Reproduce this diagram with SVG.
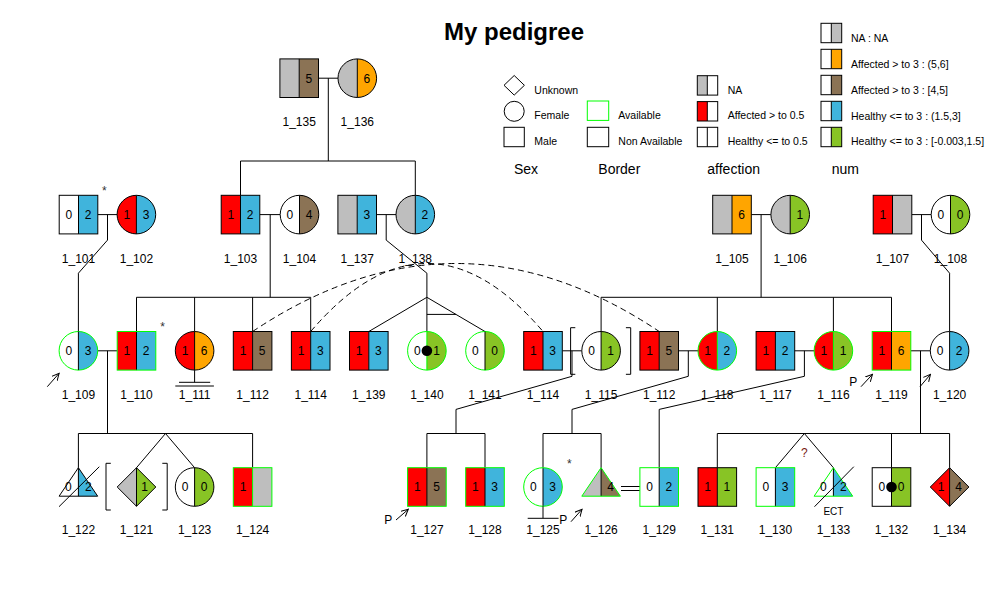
<svg xmlns="http://www.w3.org/2000/svg" width="1000" height="600" viewBox="0 0 1000 600">
<style>
.ln{stroke:#000;stroke-width:1;fill:none}
.ds{stroke:#000;stroke-width:1;fill:none;stroke-dasharray:6,4}
.ol{fill:none;stroke:#000;stroke-width:1}
.av{fill:none;stroke:#00ff00;stroke-width:1}
.t{font-family:"Liberation Sans",Arial,sans-serif;font-size:12px;text-anchor:middle;fill:#000}
.lg{font-family:"Liberation Sans",Arial,sans-serif;font-size:10.5px;text-anchor:start;fill:#000}
.hd{font-family:"Liberation Sans",Arial,sans-serif;font-size:14px;text-anchor:start;fill:#000}
.w{fill:#fff}.r{fill:#ff0000}.b{fill:#40b4dc}.br{fill:#8b7355}.o{fill:#ffa500}.g{fill:#88c425}.gy{fill:#bebebe}
</style>
<defs>
<marker id="arr" markerWidth="8" markerHeight="8" refX="7" refY="4" orient="auto" markerUnits="userSpaceOnUse">
<path d="M0,0.5 L7,4 L0,7.5" fill="none" stroke="#000" stroke-width="1"/>
</marker>
</defs>
<rect width="1000" height="600" fill="#fff"/>
<text x="514" y="39.5" style="font-family:'Liberation Sans',Arial,sans-serif;font-size:24px;font-weight:bold;text-anchor:middle">My pedigree</text>

<g id="legend">
<polygon points="514.2,75.5 524.4,85.3 514.2,95.1 504,85.3" class="ol"/>
<text x="534.3" y="94.2" class="lg">Unknown</text>
<circle cx="514.2" cy="111.3" r="10" class="ol"/>
<text x="534.3" y="119.2" class="lg">Female</text>
<rect x="504" y="127.3" width="20.3" height="19.4" class="ol"/>
<text x="534.3" y="145.2" class="lg">Male</text>
<text x="514" y="173.8" class="hd">Sex</text>
<rect x="587.3" y="101" width="21.4" height="19.4" class="av"/>
<text x="618.3" y="119.2" class="lg">Available</text>
<rect x="587.3" y="127.3" width="21.4" height="19.4" class="ol"/>
<text x="618.3" y="145.2" class="lg">Non Available</text>
<text x="598.3" y="173.8" class="hd">Border</text>
<rect x="697.3" y="75.7" width="10" height="19.4" class="gy"/>
<rect x="697.3" y="75.7" width="20.4" height="19.4" class="ol"/><line x1="707.3" y1="75.7" x2="707.3" y2="95.1" class="ln"/>
<text x="727.7" y="94.2" class="lg">NA</text>
<rect x="697.3" y="101.6" width="10" height="19.4" class="r"/>
<rect x="697.3" y="101.6" width="20.4" height="19.4" class="ol"/><line x1="707.3" y1="101.6" x2="707.3" y2="121" class="ln"/>
<text x="727.7" y="119.2" class="lg">Affected &gt; to 0.5</text>
<rect x="697.3" y="127.3" width="20.4" height="19.4" class="ol"/><line x1="707.3" y1="127.3" x2="707.3" y2="146.7" class="ln"/>
<text x="727.7" y="145.2" class="lg">Healthy &lt;= to 0.5</text>
<text x="707.3" y="173.8" class="hd">affection</text>
<rect x="831.3" y="23.3" width="10.4" height="19.4" class="gy"/>
<rect x="821" y="23.3" width="20.7" height="19.4" class="ol"/><line x1="831.3" y1="23.3" x2="831.3" y2="42.7" class="ln"/>
<text x="851" y="41.8" class="lg">NA : NA</text>
<rect x="831.3" y="49.3" width="10.4" height="19.4" class="o"/>
<rect x="821" y="49.3" width="20.7" height="19.4" class="ol"/><line x1="831.3" y1="49.3" x2="831.3" y2="68.7" class="ln"/>
<text x="851" y="67.8" class="lg">Affected &gt; to 3 : (5,6]</text>
<rect x="831.3" y="75.3" width="10.4" height="19.4" class="br"/>
<rect x="821" y="75.3" width="20.7" height="19.4" class="ol"/><line x1="831.3" y1="75.3" x2="831.3" y2="94.7" class="ln"/>
<text x="851" y="93.8" class="lg">Affected &gt; to 3 : [4,5]</text>
<rect x="831.3" y="101.3" width="10.4" height="19.4" class="b"/>
<rect x="821" y="101.3" width="20.7" height="19.4" class="ol"/><line x1="831.3" y1="101.3" x2="831.3" y2="120.7" class="ln"/>
<text x="851" y="119.5" class="lg">Healthy &lt;= to 3 : (1.5,3]</text>
<rect x="831.3" y="127.3" width="10.4" height="19.4" class="g"/>
<rect x="821" y="127.3" width="20.7" height="19.4" class="ol"/><line x1="831.3" y1="127.3" x2="831.3" y2="146.7" class="ln"/>
<text x="851" y="145.2" class="lg">Healthy &lt;= to 3 : [-0.003,1.5]</text>
<text x="831.7" y="173.8" class="hd">num</text>
</g>

<g id="connectors">
<line x1="318.5" y1="78.2" x2="338" y2="78.2" class="ln"/>
<line x1="328.3" y1="78.2" x2="328.3" y2="161" class="ln"/>
<line x1="240.5" y1="161" x2="415.3" y2="161" class="ln"/>
<line x1="240.5" y1="161" x2="240.5" y2="195.3" class="ln"/>
<line x1="415.3" y1="161" x2="415.3" y2="195.3" class="ln"/>
<line x1="97.8" y1="214.6" x2="117.1" y2="214.6" class="ln"/>
<polyline points="107.5,214.6 107.5,240.1 78.4,273.2 78.4,331.5" class="ln"/>
<line x1="259.8" y1="214.6" x2="280.2" y2="214.6" class="ln"/>
<line x1="270.2" y1="214.6" x2="270.2" y2="297.3" class="ln"/>
<line x1="376.5" y1="214.6" x2="396" y2="214.6" class="ln"/>
<polyline points="386.2,214.6 386.2,240.1 426.9,273.2 426.9,297.3" class="ln"/>
<line x1="751.3" y1="214.6" x2="770.9" y2="214.6" class="ln"/>
<line x1="761.1" y1="214.6" x2="761.1" y2="297.3" class="ln"/>
<line x1="911.8" y1="214.6" x2="931.2" y2="214.6" class="ln"/>
<polyline points="921.5,214.6 921.5,240.1 949.6,273.2 949.6,331.5" class="ln"/>
<line x1="136.5" y1="297.3" x2="310.7" y2="297.3" class="ln"/>
<line x1="136.5" y1="297.3" x2="136.5" y2="331.5" class="ln"/>
<line x1="194.6" y1="297.3" x2="194.6" y2="331.5" class="ln"/>
<line x1="252.6" y1="297.3" x2="252.6" y2="331.5" class="ln"/>
<line x1="310.7" y1="297.3" x2="310.7" y2="331.5" class="ln"/>
<line x1="426.9" y1="297.3" x2="368.8" y2="331.5" class="ln"/>
<line x1="426.9" y1="297.3" x2="426.9" y2="331.5" class="ln"/>
<line x1="426.9" y1="297.3" x2="485" y2="331.5" class="ln"/>
<line x1="426.9" y1="314.4" x2="456" y2="314.4" class="ln"/>
<line x1="601.1" y1="297.3" x2="891.5" y2="297.3" class="ln"/>
<line x1="601.1" y1="297.3" x2="601.1" y2="331.5" class="ln"/>
<line x1="717.3" y1="297.3" x2="717.3" y2="331.5" class="ln"/>
<line x1="833.4" y1="297.3" x2="833.4" y2="331.5" class="ln"/>
<line x1="891.5" y1="297.3" x2="891.5" y2="331.5" class="ln"/>
<path d="M252.6,331.5 Q455.9,195.5 659.2,331.5" class="ds"/>
<path d="M310.7,331.5 Q426.9,195.5 543,331.5" class="ds"/>
<line x1="97.7" y1="350.8" x2="117.2" y2="350.8" class="ln"/>
<line x1="107.5" y1="350.8" x2="107.5" y2="433.5" class="ln"/>
<line x1="562.3" y1="350.8" x2="581.8" y2="350.8" class="ln"/>
<polyline points="572,350.8 572,376.3 456,409.4 456,433.5" class="ln"/>
<line x1="678.5" y1="350.8" x2="698" y2="350.8" class="ln"/>
<polyline points="688.3,350.8 688.3,376.3 572,409.4 572,433.5" class="ln"/>
<line x1="794.7" y1="350.8" x2="814.1" y2="350.8" class="ln"/>
<polyline points="804.4,350.8 804.4,376.3 659.2,409.4 659.2,467.7" class="ln"/>
<line x1="910.8" y1="350.8" x2="930.3" y2="350.8" class="ln"/>
<line x1="920.5" y1="350.8" x2="920.5" y2="433.5" class="ln"/>
<line x1="78.4" y1="433.5" x2="252.6" y2="433.5" class="ln"/>
<line x1="78.4" y1="433.5" x2="78.4" y2="467.7" class="ln"/>
<line x1="165.5" y1="433.5" x2="136.5" y2="467.7" class="ln"/>
<line x1="165.5" y1="433.5" x2="194.6" y2="467.7" class="ln"/>
<line x1="252.6" y1="433.5" x2="252.6" y2="467.7" class="ln"/>
<line x1="426.9" y1="433.5" x2="485" y2="433.5" class="ln"/>
<line x1="426.9" y1="433.5" x2="426.9" y2="467.7" class="ln"/>
<line x1="485" y1="433.5" x2="485" y2="467.7" class="ln"/>
<line x1="543" y1="433.5" x2="601.1" y2="433.5" class="ln"/>
<line x1="543" y1="433.5" x2="543" y2="467.7" class="ln"/>
<line x1="601.1" y1="433.5" x2="601.1" y2="467.7" class="ln"/>
<line x1="717.3" y1="433.5" x2="949.6" y2="433.5" class="ln"/>
<line x1="717.3" y1="433.5" x2="717.3" y2="467.7" class="ln"/>
<line x1="804.4" y1="433.5" x2="775.4" y2="467.7" class="ln"/>
<line x1="804.4" y1="433.5" x2="833.4" y2="467.7" class="ln"/>
<line x1="891.5" y1="433.5" x2="891.5" y2="467.7" class="ln"/>
<line x1="949.6" y1="433.5" x2="949.6" y2="467.7" class="ln"/>
<line x1="621" y1="486.5" x2="639.9" y2="486.5" class="ln"/>
<line x1="621" y1="490.5" x2="639.9" y2="490.5" class="ln"/>
</g>

<g id="n1_135">
<rect x="279.9" y="58.9" width="19.3" height="38.6" class="gy"/><rect x="299.2" y="58.9" width="19.3" height="38.6" class="br"/>
<line x1="299.2" y1="58.9" x2="299.2" y2="97.5" class="ln"/><rect x="279.9" y="58.9" width="38.6" height="38.6" class="ol"/>
<text x="308.8" y="82.5" class="t">5</text><text x="299.2" y="126" class="t">1_135</text>
</g>
<g id="n1_136">
<path d="M357.3,58.9 A19.3,19.3 0 0 0 357.3,97.5 Z" class="gy"/><path d="M357.3,58.9 A19.3,19.3 0 0 1 357.3,97.5 Z" class="o"/>
<line x1="357.3" y1="58.9" x2="357.3" y2="97.5" class="ln"/><circle cx="357.3" cy="78.2" r="19.3" class="ol"/>
<text x="366.9" y="82.5" class="t">6</text><text x="357.3" y="126" class="t">1_136</text>
</g>

<g id="n1_101">
<rect x="59.2" y="195.3" width="19.3" height="38.6" class="w"/><rect x="78.5" y="195.3" width="19.3" height="38.6" class="b"/>
<line x1="78.5" y1="195.3" x2="78.5" y2="233.9" class="ln"/><rect x="59.2" y="195.3" width="38.6" height="38.6" class="ol"/>
<text x="68.9" y="218.9" class="t">0</text><text x="88.1" y="218.9" class="t">2</text>
<text x="104.3" y="194.9" class="t" style="fill:#333">*</text>
<text x="78.5" y="263.3" class="t">1_101</text>
</g>
<g id="n1_102">
<path d="M136.4,195.3 A19.3,19.3 0 0 0 136.4,233.9 Z" class="r"/><path d="M136.4,195.3 A19.3,19.3 0 0 1 136.4,233.9 Z" class="b"/>
<line x1="136.4" y1="195.3" x2="136.4" y2="233.9" class="ln"/><circle cx="136.4" cy="214.6" r="19.3" class="ol"/>
<text x="126.8" y="218.9" class="t">1</text><text x="146" y="218.9" class="t">3</text>
<text x="136.4" y="263.3" class="t">1_102</text>
</g>
<g id="n1_103">
<rect x="221.2" y="195.3" width="19.3" height="38.6" class="r"/><rect x="240.5" y="195.3" width="19.3" height="38.6" class="b"/>
<line x1="240.5" y1="195.3" x2="240.5" y2="233.9" class="ln"/><rect x="221.2" y="195.3" width="38.6" height="38.6" class="ol"/>
<text x="230.9" y="218.9" class="t">1</text><text x="250.1" y="218.9" class="t">2</text>
<text x="240.5" y="263.3" class="t">1_103</text>
</g>
<g id="n1_104">
<path d="M299.5,195.3 A19.3,19.3 0 0 0 299.5,233.9 Z" class="w"/><path d="M299.5,195.3 A19.3,19.3 0 0 1 299.5,233.9 Z" class="br"/>
<line x1="299.5" y1="195.3" x2="299.5" y2="233.9" class="ln"/><circle cx="299.5" cy="214.6" r="19.3" class="ol"/>
<text x="289.9" y="218.9" class="t">0</text><text x="309.1" y="218.9" class="t">4</text>
<text x="299.5" y="263.3" class="t">1_104</text>
</g>
<g id="n1_137">
<rect x="337.9" y="195.3" width="19.3" height="38.6" class="gy"/><rect x="357.2" y="195.3" width="19.3" height="38.6" class="b"/>
<line x1="357.2" y1="195.3" x2="357.2" y2="233.9" class="ln"/><rect x="337.9" y="195.3" width="38.6" height="38.6" class="ol"/>
<text x="366.8" y="218.9" class="t">3</text>
<text x="357.2" y="263.3" class="t">1_137</text>
</g>
<g id="n1_138">
<path d="M415.3,195.3 A19.3,19.3 0 0 0 415.3,233.9 Z" class="gy"/><path d="M415.3,195.3 A19.3,19.3 0 0 1 415.3,233.9 Z" class="b"/>
<line x1="415.3" y1="195.3" x2="415.3" y2="233.9" class="ln"/><circle cx="415.3" cy="214.6" r="19.3" class="ol"/>
<text x="424.9" y="218.9" class="t">2</text>
<text x="415.3" y="263.3" class="t">1_138</text>
</g>
<g id="n1_105">
<rect x="712.7" y="195.3" width="19.3" height="38.6" class="gy"/><rect x="732" y="195.3" width="19.3" height="38.6" class="o"/>
<line x1="732" y1="195.3" x2="732" y2="233.9" class="ln"/><rect x="712.7" y="195.3" width="38.6" height="38.6" class="ol"/>
<text x="741.6" y="218.9" class="t">6</text>
<text x="732" y="263.3" class="t">1_105</text>
</g>
<g id="n1_106">
<path d="M790.2,195.3 A19.3,19.3 0 0 0 790.2,233.9 Z" class="gy"/><path d="M790.2,195.3 A19.3,19.3 0 0 1 790.2,233.9 Z" class="g"/>
<line x1="790.2" y1="195.3" x2="790.2" y2="233.9" class="ln"/><circle cx="790.2" cy="214.6" r="19.3" class="ol"/>
<text x="799.8" y="218.9" class="t">1</text>
<text x="790.2" y="263.3" class="t">1_106</text>
</g>
<g id="n1_107">
<rect x="873.2" y="195.3" width="19.3" height="38.6" class="r"/><rect x="892.5" y="195.3" width="19.3" height="38.6" class="gy"/>
<line x1="892.5" y1="195.3" x2="892.5" y2="233.9" class="ln"/><rect x="873.2" y="195.3" width="38.6" height="38.6" class="ol"/>
<text x="882.9" y="218.9" class="t">1</text>
<text x="892.5" y="263.3" class="t">1_107</text>
</g>
<g id="n1_108">
<path d="M950.5,195.3 A19.3,19.3 0 0 0 950.5,233.9 Z" class="w"/><path d="M950.5,195.3 A19.3,19.3 0 0 1 950.5,233.9 Z" class="g"/>
<line x1="950.5" y1="195.3" x2="950.5" y2="233.9" class="ln"/><circle cx="950.5" cy="214.6" r="19.3" class="ol"/>
<text x="940.9" y="218.9" class="t">0</text><text x="960.1" y="218.9" class="t">0</text>
<text x="950.5" y="263.3" class="t">1_108</text>
</g>

<g id="n1_109">
<path d="M78.4,331.5 A19.3,19.3 0 0 0 78.4,370.1 Z" class="w"/><path d="M78.4,331.5 A19.3,19.3 0 0 1 78.4,370.1 Z" class="b"/>
<circle cx="78.4" cy="350.8" r="19.3" class="av"/><line x1="78.4" y1="331.5" x2="78.4" y2="370.1" class="ln"/>
<text x="68.8" y="355.1" class="t">0</text><text x="88" y="355.1" class="t">3</text>
<line x1="47.3" y1="386.7" x2="59.1" y2="373.3" class="ln" marker-end="url(#arr)"/>
<text x="78.4" y="399.3" class="t">1_109</text>
</g>
<g id="n1_110">
<rect x="117.2" y="331.5" width="19.3" height="38.6" class="r"/><rect x="136.5" y="331.5" width="19.3" height="38.6" class="b"/>
<line x1="136.5" y1="331.5" x2="136.5" y2="370.1" class="ln"/><rect x="117.2" y="331.5" width="38.6" height="38.6" class="av"/>
<text x="126.9" y="355.1" class="t">1</text><text x="146.1" y="355.1" class="t">2</text>
<text x="162.7" y="331.2" class="t" style="fill:#333">*</text>
<text x="136.5" y="399.3" class="t">1_110</text>
</g>
<g id="n1_111">
<path d="M194.6,331.5 A19.3,19.3 0 0 0 194.6,370.1 Z" class="r"/><path d="M194.6,331.5 A19.3,19.3 0 0 1 194.6,370.1 Z" class="o"/>
<line x1="194.6" y1="331.5" x2="194.6" y2="370.1" class="ln"/><circle cx="194.6" cy="350.8" r="19.3" class="ol"/>
<text x="185" y="355.1" class="t">1</text><text x="204.2" y="355.1" class="t">6</text>
<line x1="194.6" y1="370.1" x2="194.6" y2="382.3" class="ln"/>
<line x1="179" y1="382.3" x2="210.2" y2="382.3" class="ln"/>
<line x1="175.3" y1="386" x2="213.9" y2="386" class="ln"/>
<text x="194.6" y="399.3" class="t">1_111</text>
</g>
<g id="n1_112a">
<rect x="233.3" y="331.5" width="19.3" height="38.6" class="r"/><rect x="252.6" y="331.5" width="19.3" height="38.6" class="br"/>
<line x1="252.6" y1="331.5" x2="252.6" y2="370.1" class="ln"/><rect x="233.3" y="331.5" width="38.6" height="38.6" class="ol"/>
<text x="243" y="355.1" class="t">1</text><text x="262.2" y="355.1" class="t">5</text>
<text x="252.6" y="399.3" class="t">1_112</text>
</g>
<g id="n1_114a">
<rect x="291.4" y="331.5" width="19.3" height="38.6" class="r"/><rect x="310.7" y="331.5" width="19.3" height="38.6" class="b"/>
<line x1="310.7" y1="331.5" x2="310.7" y2="370.1" class="ln"/><rect x="291.4" y="331.5" width="38.6" height="38.6" class="ol"/>
<text x="301.1" y="355.1" class="t">1</text><text x="320.3" y="355.1" class="t">3</text>
<text x="310.7" y="399.3" class="t">1_114</text>
</g>
<g id="n1_139">
<rect x="349.5" y="331.5" width="19.3" height="38.6" class="r"/><rect x="368.8" y="331.5" width="19.3" height="38.6" class="b"/>
<line x1="368.8" y1="331.5" x2="368.8" y2="370.1" class="ln"/><rect x="349.5" y="331.5" width="38.6" height="38.6" class="ol"/>
<text x="359.2" y="355.1" class="t">1</text><text x="378.4" y="355.1" class="t">3</text>
<text x="368.8" y="399.3" class="t">1_139</text>
</g>
<g id="n1_140">
<path d="M426.9,331.5 A19.3,19.3 0 0 0 426.9,370.1 Z" class="w"/><path d="M426.9,331.5 A19.3,19.3 0 0 1 426.9,370.1 Z" class="g"/>
<line x1="426.9" y1="331.5" x2="426.9" y2="370.1" class="av"/><circle cx="426.9" cy="350.8" r="19.3" class="av"/>
<text x="417.3" y="355.1" class="t">0</text><text x="436.5" y="355.1" class="t">1</text>
<circle cx="426.9" cy="350.8" r="5.3" fill="#000"/>
<text x="426.9" y="399.3" class="t">1_140</text>
</g>
<g id="n1_141">
<path d="M485,331.5 A19.3,19.3 0 0 0 485,370.1 Z" class="w"/><path d="M485,331.5 A19.3,19.3 0 0 1 485,370.1 Z" class="g"/>
<circle cx="485" cy="350.8" r="19.3" class="av"/><line x1="485" y1="331.5" x2="485" y2="370.1" class="ln"/>
<text x="475.4" y="355.1" class="t">0</text><text x="494.6" y="355.1" class="t">0</text>
<text x="485" y="399.3" class="t">1_141</text>
</g>
<g id="n1_114b">
<rect x="523.7" y="331.5" width="19.3" height="38.6" class="r"/><rect x="543" y="331.5" width="19.3" height="38.6" class="b"/>
<line x1="543" y1="331.5" x2="543" y2="370.1" class="ln"/><rect x="523.7" y="331.5" width="38.6" height="38.6" class="ol"/>
<text x="533.4" y="355.1" class="t">1</text><text x="552.6" y="355.1" class="t">3</text>
<text x="543" y="399.3" class="t">1_114</text>
</g>
<g id="n1_115">
<path d="M601.1,331.5 A19.3,19.3 0 0 0 601.1,370.1 Z" class="w"/><path d="M601.1,331.5 A19.3,19.3 0 0 1 601.1,370.1 Z" class="g"/>
<line x1="601.1" y1="331.5" x2="601.1" y2="370.1" class="ln"/><circle cx="601.1" cy="350.8" r="19.3" class="ol"/>
<text x="591.5" y="355.1" class="t">0</text><text x="610.7" y="355.1" class="t">1</text>
<polyline points="575.3,327.7 570.6,327.7 570.6,374.3 575.3,374.3" class="ln"/>
<polyline points="625.9,327.7 630.7,327.7 630.7,374.3 625.9,374.3" class="ln"/>
<text x="601.1" y="399.3" class="t">1_115</text>
</g>
<g id="n1_112b">
<rect x="639.9" y="331.5" width="19.3" height="38.6" class="r"/><rect x="659.2" y="331.5" width="19.3" height="38.6" class="br"/>
<line x1="659.2" y1="331.5" x2="659.2" y2="370.1" class="ln"/><rect x="639.9" y="331.5" width="38.6" height="38.6" class="ol"/>
<text x="649.6" y="355.1" class="t">1</text><text x="668.8" y="355.1" class="t">5</text>
<text x="659.2" y="399.3" class="t">1_112</text>
</g>
<g id="n1_118">
<path d="M717.3,331.5 A19.3,19.3 0 0 0 717.3,370.1 Z" class="r"/><path d="M717.3,331.5 A19.3,19.3 0 0 1 717.3,370.1 Z" class="b"/>
<line x1="717.3" y1="331.5" x2="717.3" y2="370.1" class="av"/><circle cx="717.3" cy="350.8" r="19.3" class="av"/>
<text x="707.7" y="355.1" class="t">1</text><text x="726.9" y="355.1" class="t">2</text>
<text x="717.3" y="399.3" class="t">1_118</text>
</g>
<g id="n1_117">
<rect x="756.1" y="331.5" width="19.3" height="38.6" class="r"/><rect x="775.4" y="331.5" width="19.3" height="38.6" class="b"/>
<line x1="775.4" y1="331.5" x2="775.4" y2="370.1" class="ln"/><rect x="756.1" y="331.5" width="38.6" height="38.6" class="ol"/>
<text x="765.8" y="355.1" class="t">1</text><text x="785" y="355.1" class="t">2</text>
<text x="775.4" y="399.3" class="t">1_117</text>
</g>
<g id="n1_116">
<path d="M833.4,331.5 A19.3,19.3 0 0 0 833.4,370.1 Z" class="r"/><path d="M833.4,331.5 A19.3,19.3 0 0 1 833.4,370.1 Z" class="g"/>
<line x1="833.4" y1="331.5" x2="833.4" y2="370.1" class="av"/><circle cx="833.4" cy="350.8" r="19.3" class="av"/>
<text x="823.8" y="355.1" class="t">1</text><text x="843" y="355.1" class="t">1</text>
<text x="833.4" y="399.3" class="t">1_116</text>
</g>
<g id="n1_119">
<rect x="872.2" y="331.5" width="19.3" height="38.6" class="r"/><rect x="891.5" y="331.5" width="19.3" height="38.6" class="o"/>
<line x1="891.5" y1="331.5" x2="891.5" y2="370.1" class="ln"/><rect x="872.2" y="331.5" width="38.6" height="38.6" class="av"/>
<text x="881.9" y="355.1" class="t">1</text><text x="901.1" y="355.1" class="t">6</text>
<text x="853.3" y="386" class="t">P</text>
<line x1="861" y1="386.7" x2="872.5" y2="374.3" class="ln" marker-end="url(#arr)"/>
<text x="891.5" y="399.3" class="t">1_119</text>
</g>
<g id="n1_120">
<path d="M949.6,331.5 A19.3,19.3 0 0 0 949.6,370.1 Z" class="w"/><path d="M949.6,331.5 A19.3,19.3 0 0 1 949.6,370.1 Z" class="b"/>
<line x1="949.6" y1="331.5" x2="949.6" y2="370.1" class="ln"/><circle cx="949.6" cy="350.8" r="19.3" class="ol"/>
<text x="940" y="355.1" class="t">0</text><text x="959.2" y="355.1" class="t">2</text>
<line x1="920" y1="386.7" x2="930.5" y2="374.3" class="ln" marker-end="url(#arr)"/>
<text x="949.6" y="399.3" class="t">1_120</text>
</g>

<g id="n1_122">
<polygon points="78.4,467.7 59.1,496.2 78.4,496.2" class="w"/><polygon points="78.4,467.7 97.7,496.2 78.4,496.2" class="b"/>
<line x1="78.4" y1="467.7" x2="78.4" y2="496.2" class="ln"/><polygon points="78.4,467.7 59.1,496.2 97.7,496.2" class="ol"/>
<text x="68.4" y="491.3" class="t">0</text><text x="88.4" y="491.3" class="t">2</text>
<line x1="59" y1="506.7" x2="99.3" y2="466.7" class="ln"/>
<text x="78.4" y="534.3" class="t">1_122</text>
</g>
<g id="n1_121">
<polygon points="136.5,467.7 117.2,487 136.5,506.3" class="gy"/><polygon points="136.5,467.7 155.8,487 136.5,506.3" class="g"/>
<line x1="136.5" y1="467.7" x2="136.5" y2="506.3" class="ln"/><polygon points="136.5,467.7 155.8,487 136.5,506.3 117.2,487" class="ol"/>
<text x="144.5" y="491.3" class="t">1</text>
<polyline points="110.8,463.3 106,463.3 106,510 110.8,510" class="ln"/>
<polyline points="162.3,463.3 167.2,463.3 167.2,510 162.3,510" class="ln"/>
<text x="136.5" y="534.3" class="t">1_121</text>
</g>
<g id="n1_123">
<path d="M194.6,467.7 A19.3,19.3 0 0 0 194.6,506.3 Z" class="w"/><path d="M194.6,467.7 A19.3,19.3 0 0 1 194.6,506.3 Z" class="g"/>
<line x1="194.6" y1="467.7" x2="194.6" y2="506.3" class="ln"/><circle cx="194.6" cy="487" r="19.3" class="ol"/>
<text x="185" y="491.3" class="t">0</text><text x="204.2" y="491.3" class="t">0</text>
<text x="194.6" y="534.3" class="t">1_123</text>
</g>
<g id="n1_124">
<rect x="233.3" y="467.7" width="19.3" height="38.6" class="r"/><rect x="252.6" y="467.7" width="19.3" height="38.6" class="gy"/>
<line x1="252.6" y1="467.7" x2="252.6" y2="506.3" class="av"/><rect x="233.3" y="467.7" width="38.6" height="38.6" class="av"/>
<text x="243" y="491.3" class="t">1</text>
<text x="252.6" y="534.3" class="t">1_124</text>
</g>
<g id="n1_127">
<rect x="407.6" y="467.7" width="19.3" height="38.6" class="r"/><rect x="426.9" y="467.7" width="19.3" height="38.6" class="br"/>
<line x1="426.9" y1="467.7" x2="426.9" y2="506.3" class="ln"/><rect x="407.6" y="467.7" width="38.6" height="38.6" class="av"/>
<text x="417.3" y="491.3" class="t">1</text><text x="436.5" y="491.3" class="t">5</text>
<text x="388.3" y="523.6" class="t">P</text>
<line x1="396" y1="520" x2="408.3" y2="509.3" class="ln" marker-end="url(#arr)"/>
<text x="426.9" y="534.3" class="t">1_127</text>
</g>
<g id="n1_128">
<rect x="465.7" y="467.7" width="19.3" height="38.6" class="r"/><rect x="485" y="467.7" width="19.3" height="38.6" class="b"/>
<line x1="485" y1="467.7" x2="485" y2="506.3" class="ln"/><rect x="465.7" y="467.7" width="38.6" height="38.6" class="av"/>
<text x="475.4" y="491.3" class="t">1</text><text x="494.6" y="491.3" class="t">3</text>
<text x="485" y="534.3" class="t">1_128</text>
</g>
<g id="n1_125">
<path d="M543,467.7 A19.3,19.3 0 0 0 543,506.3 Z" class="w"/><path d="M543,467.7 A19.3,19.3 0 0 1 543,506.3 Z" class="b"/>
<line x1="543" y1="467.7" x2="543" y2="506.3" class="ln"/><circle cx="543" cy="487" r="19.3" class="av"/>
<text x="533.4" y="491.3" class="t">0</text><text x="552.6" y="491.3" class="t">3</text>
<line x1="543" y1="506.3" x2="543" y2="518.3" class="ln"/>
<line x1="527.7" y1="518.3" x2="558.6" y2="518.3" class="ln"/>
<text x="569.3" y="467.6" class="t" style="fill:#333">*</text>
<text x="543" y="534.3" class="t">1_125</text>
</g>
<g id="n1_126">
<polygon points="601.1,467.7 581.8,496.2 601.1,496.2" class="gy"/><polygon points="601.1,467.7 620.4,496.2 601.1,496.2" class="br"/>
<line x1="601.1" y1="467.7" x2="601.1" y2="496.2" class="ln"/><polygon points="601.1,467.7 581.8,496.2 620.4,496.2" class="av"/>
<text x="610.6" y="491.3" class="t">4</text>
<text x="563.3" y="523.6" class="t">P</text>
<line x1="571" y1="521.7" x2="582" y2="509.3" class="ln" marker-end="url(#arr)"/>
<text x="601.1" y="534.3" class="t">1_126</text>
</g>
<g id="n1_129">
<rect x="639.9" y="467.7" width="19.3" height="38.6" class="w"/><rect x="659.2" y="467.7" width="19.3" height="38.6" class="b"/>
<line x1="659.2" y1="467.7" x2="659.2" y2="506.3" class="ln"/><rect x="639.9" y="467.7" width="38.6" height="38.6" class="av"/>
<text x="649.6" y="491.3" class="t">0</text><text x="668.8" y="491.3" class="t">2</text>
<text x="659.2" y="534.3" class="t">1_129</text>
</g>
<g id="n1_131">
<rect x="698" y="467.7" width="19.3" height="38.6" class="r"/><rect x="717.3" y="467.7" width="19.3" height="38.6" class="g"/>
<line x1="717.3" y1="467.7" x2="717.3" y2="506.3" class="ln"/><rect x="698" y="467.7" width="38.6" height="38.6" class="ol"/>
<text x="707.7" y="491.3" class="t">1</text><text x="726.9" y="491.3" class="t">1</text>
<text x="717.3" y="534.3" class="t">1_131</text>
</g>
<g id="n1_130">
<rect x="756.1" y="467.7" width="19.3" height="38.6" class="w"/><rect x="775.4" y="467.7" width="19.3" height="38.6" class="b"/>
<line x1="775.4" y1="467.7" x2="775.4" y2="506.3" class="ln"/><rect x="756.1" y="467.7" width="38.6" height="38.6" class="av"/>
<text x="765.8" y="491.3" class="t">0</text><text x="785" y="491.3" class="t">3</text>
<text x="804.4" y="456.6" class="t" style="fill:#7a1a10">?</text>
<text x="775.4" y="534.3" class="t">1_130</text>
</g>
<g id="n1_133">
<polygon points="833.4,467.7 814.1,496.2 833.4,496.2" class="w"/><polygon points="833.4,467.7 852.7,496.2 833.4,496.2" class="b"/>
<line x1="833.4" y1="467.7" x2="833.4" y2="496.2" class="ln"/><polygon points="833.4,467.7 814.1,496.2 852.7,496.2" class="av"/>
<text x="823.4" y="491.3" class="t">0</text><text x="843.4" y="491.3" class="t">2</text>
<line x1="814.5" y1="506.7" x2="853.8" y2="466.7" class="ln"/>
<text x="833.4" y="515.3" class="t" style="font-size:10px">ECT</text>
<text x="833.4" y="534.3" class="t">1_133</text>
</g>
<g id="n1_132">
<rect x="872.2" y="467.7" width="19.3" height="38.6" class="w"/><rect x="891.5" y="467.7" width="19.3" height="38.6" class="g"/>
<line x1="891.5" y1="467.7" x2="891.5" y2="506.3" class="ln"/><rect x="872.2" y="467.7" width="38.6" height="38.6" class="ol"/>
<text x="881.9" y="491.3" class="t">0</text><text x="901.1" y="491.3" class="t">0</text>
<circle cx="891.5" cy="487" r="5.3" fill="#000"/>
<text x="891.5" y="534.3" class="t">1_132</text>
</g>
<g id="n1_134">
<polygon points="949.6,467.7 930.3,487 949.6,506.3" class="r"/><polygon points="949.6,467.7 968.9,487 949.6,506.3" class="br"/>
<line x1="949.6" y1="467.7" x2="949.6" y2="506.3" class="ln"/><polygon points="949.6,467.7 968.9,487 949.6,506.3 930.3,487" class="ol"/>
<text x="941" y="491.3" class="t">1</text><text x="958.6" y="491.3" class="t">4</text>
<text x="949.6" y="534.3" class="t">1_134</text>
</g>
</svg>
